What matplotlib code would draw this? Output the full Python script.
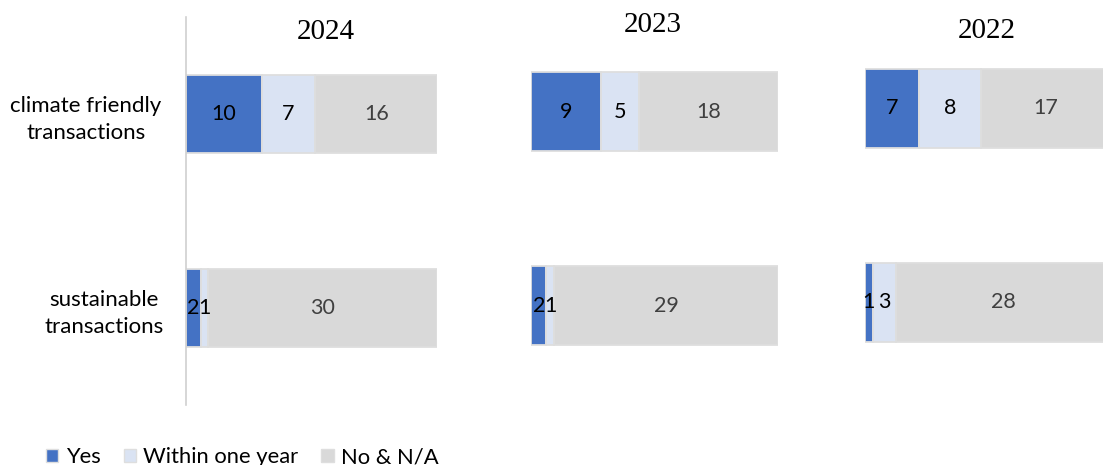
import matplotlib
matplotlib.use("Agg")
import matplotlib.pyplot as plt
from matplotlib.patches import Patch

years = ["2024", "2023", "2022"]
categories = ["climate friendly\ntransactions", "sustainable\ntransactions"]
series_names = ["Yes", "Within one year", "No & N/A"]
yes_vals = {"2024": [10, 2], "2023": [9, 2], "2022": [7, 1]}
within_vals = {"2024": [7, 1], "2023": [5, 1], "2022": [8, 3]}
no_vals = {"2024": [16, 30], "2023": [18, 29], "2022": [17, 28]}

colors = ["#4472C4", "#DAE3F3", "#D9D9D9"]
label_colors = ["#000000", "#000000", "#404040"]

W, H = 1103, 465
fig = plt.figure(figsize=(W / 100, H / 100), dpi=100)

sans = ["Lato", "DejaVu Sans"]
serif = ["Liberation Serif", "DejaVu Serif"]

# panel layout in pixels: left x, axis top y, axis bottom y, px per unit, title x, title y
panels = {
    "2024": dict(x0=185.5, top=17, bot=405, scale=7.63, tx=326, ty=32),
    "2023": dict(x0=531, top=14.5, bot=402.5, scale=7.73, tx=653, ty=25),
    "2022": dict(x0=865, top=11.5, bot=399.5, scale=7.7, tx=987, ty=30.5),
}

for i, yr in enumerate(years):
    p = panels[yr]
    totals = [a + b + c for a, b, c in zip(yes_vals[yr], within_vals[yr], no_vals[yr])]
    xmax = max(totals)
    width_px = xmax * p["scale"]
    ax = fig.add_axes([p["x0"] / W, 1 - p["bot"] / H, width_px / W, (p["bot"] - p["top"]) / H])
    ypos = [0, 1]
    left = [0] * len(categories)
    for s, vals in enumerate([yes_vals[yr], within_vals[yr], no_vals[yr]]):
        ax.barh(ypos, vals, left=left, height=0.405, color=colors[s],
                edgecolor="#DEDEDE", linewidth=1.3, label=series_names[s])
        for j, v in enumerate(vals):
            ax.text(left[j] + v / 2, ypos[j], str(v), ha="center", va="center",
                    fontsize=15.5, color=label_colors[s], family=sans)
        left = [l + v for l, v in zip(left, vals)]
    ax.set_xlim(0, xmax)
    ax.set_ylim(1.5, -0.5)
    ax.set_xticks([])
    for sp in ["top", "right", "bottom"]:
        ax.spines[sp].set_visible(False)
    if i == 0:
        ax.spines["left"].set_color("#D0D0D0")
        ax.spines["left"].set_linewidth(1.2)
        ax.set_yticks(ypos)
        ax.set_yticklabels(categories, family=sans, fontsize=16, ha="center",
                           multialignment="center", linespacing=1.45)
        ax.tick_params(axis="y", length=0, pad=0)
        for lbl, cx in zip(ax.get_yticklabels(), [86, 104]):
            lbl.set_x((cx - p["x0"]) / width_px)
            lbl.set_transform(ax.get_yaxis_transform())
    else:
        ax.spines["left"].set_visible(False)
        ax.set_yticks([])
    fig.text(p["tx"] / W, 1 - p["ty"] / H, yr, ha="center", va="center",
             fontsize=21, family=serif, color="#000000")

handles = [Patch(facecolor=c, edgecolor="#DEDEDE", linewidth=1) for c in colors]
fig.legend(handles, series_names, loc="center left", bbox_to_anchor=(46 / W, 1 - 457 / H),
           ncol=3, frameon=False, prop={"family": sans, "size": 15.8},
           handlelength=0.55, handleheight=0.55, handletextpad=0.35, columnspacing=1.05,
           borderaxespad=0, borderpad=0)

fig.savefig("out.png", dpi=100)
